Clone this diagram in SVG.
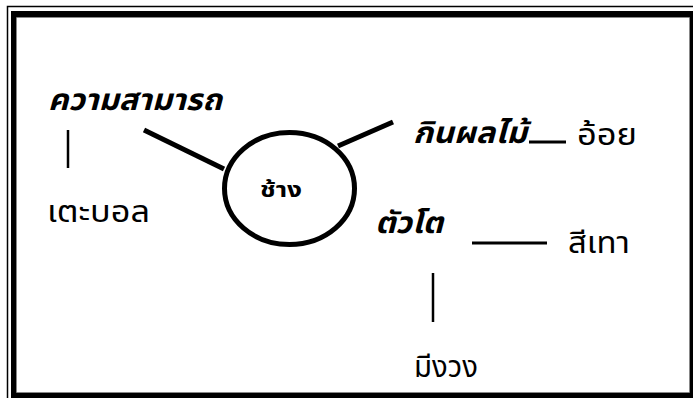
<svg xmlns="http://www.w3.org/2000/svg" width="693" height="398" viewBox="0 0 693 398">
<style>
.t{font-family:"Noto Sans Thai","Noto Sans","DejaVu Sans",sans-serif;fill:#000}
.bi{font-weight:bold;font-style:italic;font-size:30px}
.r{font-size:30px}
.c{stroke:#000;fill:none;stroke-linecap:butt}
</style>
<rect width="693" height="398" fill="#fff"/>
<g id="frame">
<path d="M7.5,398 V6.5 H693" fill="none" stroke="#000" stroke-width="1.5"/>
<path d="M11,11 H693 V398 H11 Z M17,18 V392 H690 V18 Z" fill="#000" fill-rule="evenodd"/>
<path d="M16.5,392.5 V17.5 H689.5 V392.5 Z" fill="none" stroke="#888" stroke-width="1"/>
</g>
<g id="connectors">
<line class="c" x1="144" y1="130" x2="224" y2="169" stroke-width="5"/>
<line class="c" x1="68" y1="130" x2="68" y2="168" stroke-width="2.5"/>
<line class="c" x1="338" y1="146" x2="393" y2="122" stroke-width="5"/>
<line class="c" x1="529" y1="142" x2="566" y2="142" stroke-width="3"/>
<line class="c" x1="472" y1="243" x2="547" y2="243" stroke-width="3"/>
<line class="c" x1="433" y1="273" x2="433" y2="322" stroke-width="2.5"/>
</g>
<g id="elephant">
<ellipse cx="289.5" cy="188.5" rx="65" ry="56" fill="none" stroke="#000" stroke-width="5"/>
<text class="t" x="260" y="197" font-size="22" font-weight="bold" textLength="42" lengthAdjust="spacingAndGlyphs">ช้าง</text>
</g>
<g id="ability"><text class="t bi" x="48" y="110" textLength="174" lengthAdjust="spacingAndGlyphs">ความสามารถ</text></g>
<g id="football"><text class="t r" x="47" y="222" textLength="103" lengthAdjust="spacingAndGlyphs">เตะบอล</text></g>
<g id="fruit"><text class="t bi" x="413" y="143" textLength="114" lengthAdjust="spacingAndGlyphs">กินผลไม้</text></g>
<g id="sugarcane"><text class="t r" x="577" y="145" textLength="60" lengthAdjust="spacingAndGlyphs">อ้อย</text></g>
<g id="big"><text class="t bi" x="375" y="233" textLength="68" lengthAdjust="spacingAndGlyphs">ตัวโต</text></g>
<g id="grey"><text class="t r" x="568" y="253" textLength="62" lengthAdjust="spacingAndGlyphs">สีเทา</text></g>
<g id="trunk"><text class="t r" x="414" y="377" textLength="64" lengthAdjust="spacingAndGlyphs">มีงวง</text></g>
</svg>
